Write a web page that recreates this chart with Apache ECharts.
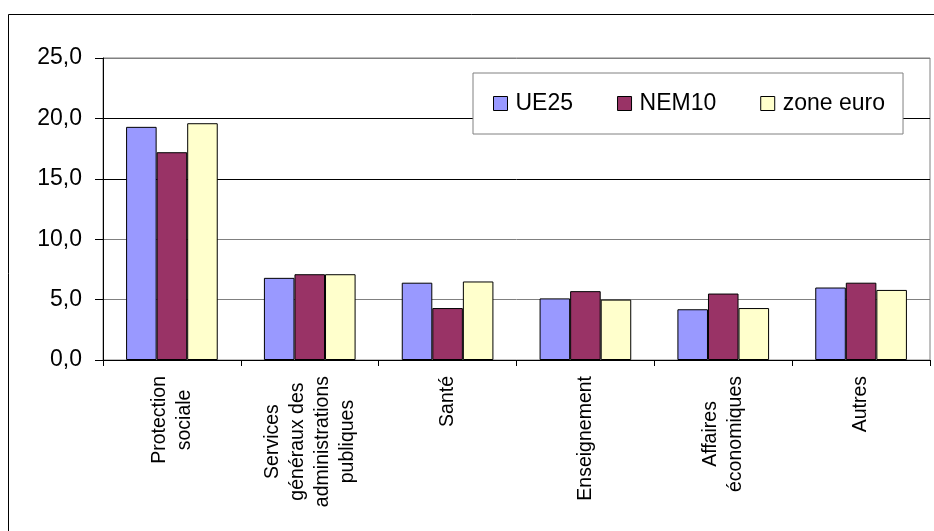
<!DOCTYPE html>
<html>
<head>
<meta charset="utf-8">
<script src="https://cdn.jsdelivr.net/npm/echarts@6/dist/echarts.min.js"></script>
<style>
html,body{margin:0;padding:0;background:#fff;}
#chart{width:934px;height:531px;}
</style>
</head>
<body>
<div id="chart"></div>
<script>
const categories = ["Protection\nsociale", "Services\ngénéraux des\nadministrations\npubliques", "Santé", "Enseignement", "Affaires\néconomiques", "Autres"];
const seriesNames = ["UE25", "NEM10", "zone euro"];
const ue25 = [19.3, 6.8, 6.4, 5.1, 4.2, 6.0];
const nem10 = [17.2, 7.1, 4.3, 5.7, 5.5, 6.4];
const zoneEuro = [19.6, 7.1, 6.5, 5.0, 4.3, 5.8];
const colors = ["#9999FF", "#993366", "#FFFFCC"];

const FONT = "'Liberation Sans', Arial, sans-serif";
const chart = echarts.init(document.getElementById('chart'), null, {renderer: 'canvas'});

function mkSeries(name, data, color) {
  return {
    name: name, type: 'bar', data: data,
    barGap: '0%', barCategoryGap: '33.5%',
    itemStyle: {color: color, borderColor: '#000', borderWidth: 1},
    emphasis: {disabled: true}
  };
}

chart.setOption({
  animation: false,
  backgroundColor: '#fff',
  textStyle: {fontFamily: FONT},
  graphic: [{
    type: 'rect', silent: true, z: -10,
    shape: {x: 8.5, y: 14.5, width: 1000, height: 1000},
    style: {fill: 'none', stroke: '#000', lineWidth: 1}
  }],
  grid: {left: 103, right: 4, top: 58, bottom: 171, show: true, borderColor: '#808080', borderWidth: 1, containLabel: false},
  legend: {
    left: 473, top: 73,
    padding: [19, 18, 19, 20],
    itemGap: 44,
    itemWidth: 14, itemHeight: 14,
    backgroundColor: '#fff',
    borderColor: '#808080', borderWidth: 1,
    textStyle: {fontFamily: FONT, fontSize: 23, color: '#000', padding: [0, 0, 0, 3]},
    data: seriesNames.map((n, i) => ({name: n, icon: 'rect', itemStyle: {color: colors[i], borderColor: '#000', borderWidth: 1}}))
  },
  xAxis: {
    type: 'category', data: categories,
    axisLine: {lineStyle: {color: '#000', width: 1}},
    axisTick: {show: true, length: 6, lineStyle: {color: '#000'}},
    axisLabel: {
      rotate: 90, margin: 16, interval: 0,
      color: '#000', fontFamily: FONT, fontSize: 19.5, lineHeight: 25,
      formatter: function (v) { return v.split('\n').map(s => '{c|' + s + '}').join('\n'); },
      rich: {c: {align: 'center', fontFamily: FONT, fontSize: 19.5, lineHeight: 25, color: '#000'}}
    }
  },
  yAxis: {
    type: 'value', min: 0, max: 25, interval: 5,
    axisLine: {show: true, lineStyle: {color: '#000', width: 1}},
    axisTick: {show: true, length: 8, lineStyle: {color: '#000'}},
    axisLabel: {
      margin: 21, color: '#000', fontFamily: FONT, fontSize: 23,
      formatter: v => v.toFixed(1).replace('.', ',')
    },
    splitLine: {show: true, lineStyle: {color: ['#808080', '#808080', '#808080', '#000', '#000', '#808080'], width: 1}}
  },
  series: [mkSeries(seriesNames[0], ue25, colors[0]), mkSeries(seriesNames[1], nem10, colors[1]), mkSeries(seriesNames[2], zoneEuro, colors[2])]
});
</script>
</body>
</html>
